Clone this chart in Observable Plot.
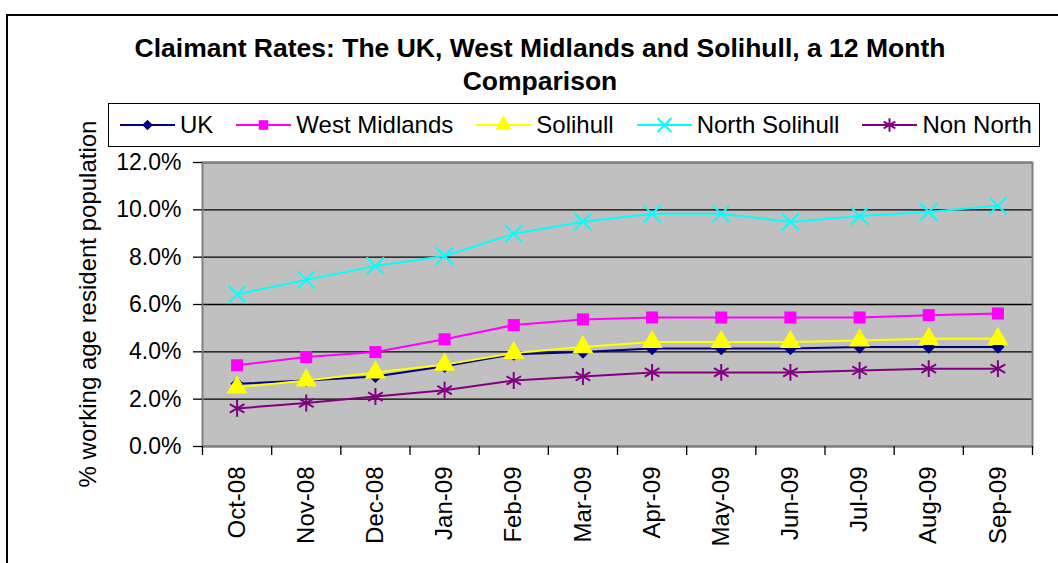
<!DOCTYPE html>
<html>
<head>
<meta charset="utf-8">
<script src="https://cdn.jsdelivr.net/npm/d3@7"></script>
<script src="https://cdn.jsdelivr.net/npm/@observablehq/plot@0.6"></script>
<style>
  body { margin: 0; background: #fff; font-family: "Liberation Sans", Arial, sans-serif; }
  #wrap { position: relative; width: 1058px; height: 563px; overflow: hidden; background: #fff; }
  #chart { position: absolute; left: 0; top: 0; }
  #border { position: absolute; left: 6px; top: 14px; width: 1070px; height: 570px; border: 2px solid #000; box-sizing: border-box; }
  #title { position: absolute; left: 40px; width: 1000px; top: 32px; text-align: center; font-weight: bold; font-size: 26.5px; line-height: 33px; color: #000; }
  #legend { position: absolute; left: 108px; top: 103px; width: 932px; height: 44px; box-sizing: border-box; border: 1.5px solid #000; background: #fff;
            display: flex; align-items: center; padding-left: 11px; font-size: 24px; color: #000; white-space: nowrap; }
  .item { display: flex; align-items: center; margin-right: 23px; }
  .item svg { margin-right: 5px; }
  #ylabel { position: absolute; left: 88px; top: 304px; transform: translate(-50%, -50%) rotate(-90deg); font-size: 24px; white-space: nowrap; color: #000; }
</style>
</head>
<body>
<div id="wrap">
  <div id="border"></div>
  <div id="chart"></div>
  <div id="title">Claimant Rates: The UK, West Midlands and Solihull, a 12 Month<br>Comparison</div>
  <div id="legend"></div>
  <div id="ylabel">% working age resident population</div>
</div>
<script>
// ---- data (percent values) ----
const months = ["Oct-08", "Nov-08", "Dec-08", "Jan-09", "Feb-09", "Mar-09", "Apr-09", "May-09", "Jun-09", "Jul-09", "Aug-09", "Sep-09"];
const seriesNames = ["UK", "West Midlands", "Solihull", "North Solihull", "Non North"];
const uk            = [2.65, 2.79, 2.96, 3.39, 3.90, 3.99, 4.14, 4.14, 4.14, 4.20, 4.20, 4.20];
const westMidlands  = [3.43, 3.78, 3.99, 4.53, 5.13, 5.37, 5.45, 5.45, 5.45, 5.45, 5.55, 5.62];
const solihull      = [2.50, 2.79, 3.13, 3.46, 3.95, 4.20, 4.42, 4.42, 4.42, 4.48, 4.55, 4.55];
const northSolihull = [6.43, 7.04, 7.63, 8.05, 8.99, 9.50, 9.83, 9.83, 9.49, 9.74, 9.91, 10.18];
const nonNorth      = [1.61, 1.84, 2.11, 2.38, 2.79, 2.96, 3.13, 3.13, 3.13, 3.21, 3.29, 3.29];
const yTicks = [0, 0.02, 0.04, 0.06, 0.08, 0.10, 0.12];

// ---- styles ----
const styles = [
  {name: seriesNames[0], values: uk,            color: "#000080", symbol: "diamond2", filled: true,  r: 6},
  {name: seriesNames[1], values: westMidlands,  color: "#FF00FF", symbol: "square",   filled: true,  r: 6.8},
  {name: seriesNames[2], values: solihull,      color: "#FFFF00", symbol: "triangle", filled: true,  r: 7.8},
  {name: seriesNames[3], values: northSolihull, color: "#00FFFF", symbol: "times",    filled: false, r: 8},
  {name: seriesNames[4], values: nonNorth,      color: "#800080", symbol: "asterisk", filled: false, r: 8}
];

const rowsOf = (s) => s.values.map((v, i) => ({i, month: months[i], value: v / 100, series: s.name}));

const seriesMarks = styles.flatMap(s => {
  const data = rowsOf(s);
  return [
    Plot.line(data, {x: "i", y: "value", stroke: s.color, strokeWidth: 2}),
    Plot.dot(data, {x: "i", y: "value", symbol: () => s.symbol, r: s.r,
      fill: s.filled ? s.color : "none", stroke: s.filled ? "none" : s.color, strokeWidth: s.filled ? 0 : 2})
  ];
});

const idx = months.map((m, i) => i);
const bounds = [...idx.map(i => i - 0.5), months.length - 0.5];

const chart = Plot.plot({
  width: 1058, height: 563,
  marginLeft: 202, marginRight: 26, marginTop: 162, marginBottom: 117,
  style: {fontFamily: '"Liberation Sans", Arial, sans-serif', fontSize: "24px", color: "#000", background: "transparent", overflow: "visible"},
  x: {domain: [-0.5, months.length - 0.5]},
  y: {domain: [0, 0.12]},
  symbol: {type: "identity"},
  marks: [
    Plot.frame({fill: "#C0C0C0", stroke: "none"}),
    Plot.gridY(yTicks, {stroke: "#000", strokeOpacity: 1, strokeWidth: 1.3}),
    Plot.frame({stroke: "#808080", strokeWidth: 2}),
    Plot.axisY(yTicks, {tickSize: 9, tickPadding: 12, tickFormat: d3.format(".1%"), label: null, fontSize: 23, stroke: "#000", strokeWidth: 1.3}),
    Plot.axisX(bounds, {tickSize: 9, tickFormat: () => "", label: null, stroke: "#000", strokeWidth: 1.3}),
    Plot.axisX(idx, {tickSize: 0, tickPadding: 20, tickRotate: -90, tickFormat: i => months[i], label: null, fontSize: 24, textAnchor: "end"}),
    ...seriesMarks
  ]
});
document.getElementById("chart").appendChild(chart);

// ---- legend ----
const legend = d3.select("#legend");
const symbolMap = {diamond2: d3.symbolDiamond2, square: d3.symbolSquare, triangle: d3.symbolTriangle, times: d3.symbolTimes, asterisk: d3.symbolAsterisk};
styles.forEach(s => {
  const item = legend.append("div").attr("class", "item");
  const sw = item.append("svg").attr("width", 55).attr("height", 20);
  sw.append("line").attr("x1", 0).attr("x2", 55).attr("y1", 10).attr("y2", 10).attr("stroke", s.color).attr("stroke-width", 2);
  sw.append("path")
    .attr("transform", "translate(27.5,10)")
    .attr("d", d3.symbol(symbolMap[s.symbol], Math.PI * (s.r * 0.8) ** 2)())
    .attr("fill", s.filled ? s.color : "none")
    .attr("stroke", s.filled ? "none" : s.color)
    .attr("stroke-width", 2);
  item.append("span").text(s.name);
});
</script>
</body>
</html>
